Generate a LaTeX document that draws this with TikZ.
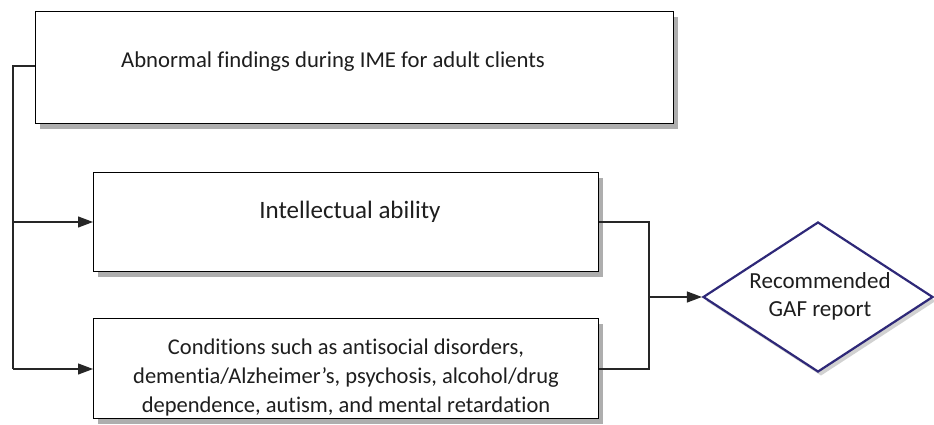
\documentclass[tikz,border=0pt]{standalone}
\usepackage{fontspec}
\setmainfont[Ligatures=NoCommon]{Carlito}
\usetikzlibrary{shapes.geometric,shadows,arrows.meta}
\definecolor{navy}{RGB}{46,40,120}
\definecolor{ink}{RGB}{30,30,30}
\tikzset{
  box/.style={draw=black, line width=1.3pt, fill=white, inner sep=0pt,
    drop shadow={shadow xshift=4pt, shadow yshift=-5pt, opacity=0.45, fill=black!70}},
  dec/.style={diamond, draw=navy, line width=2.2pt, fill=white, inner sep=0pt,
    minimum width=230pt, minimum height=150pt, aspect=1.53,
    drop shadow={shadow xshift=3pt, shadow yshift=-4pt, opacity=0.3, fill=black!60}},
  lbl/.style={text=ink, inner sep=0pt, align=center},
  conn/.style={draw=black!85, line width=1.2pt},
  arr/.style={conn, -{Triangle[length=15pt,width=11pt]}}
}
\begin{document}
\begin{tikzpicture}[x=1pt,y=-1pt]
\useasboundingbox (0,0) rectangle (934,425);
\node[box, minimum width=638pt, minimum height=112pt, anchor=north west] (b1) at (35,11) {};
\node[lbl, font=\fontsize{22.7}{27}\selectfont] (t1) at (333,62) {Abnormal findings during IME for adult clients};
\node[box, minimum width=505pt, minimum height=99pt, anchor=north west] (b2) at (93,172) {};
\node[lbl, font=\fontsize{25}{30}\selectfont] (t2) at (350,212) {Intellectual ability};
\node[box, minimum width=505pt, minimum height=100pt, anchor=north west] (b3) at (93,318) {};
\node[lbl, font=\fontsize{22.5}{29}\selectfont] (t3) at (346,377) {Conditions such as antisocial disorders,\\dementia/Alzheimer’s, psychosis, alcohol/drug\\dependence, autism, and mental retardation};
\node[dec] (d) at (818,297) {};
\node[lbl, font=\fontsize{23}{28}\selectfont] (td) at (820,296) {Recommended\\GAF report};
\coordinate (l1) at (13,66);
\coordinate (l2) at (13,222);
\coordinate (l3) at (13,369);
\coordinate (r2) at (649,222);
\coordinate (r3) at (649,369);
\coordinate (rm) at (649,297);
\draw[conn] (b1.west |- l1) -- (l1) -- (l3);
\draw[arr] (l2) -- (b2.west |- l2);
\draw[arr] (l3) -- (b3.west |- l3);
\draw[conn] (b2.east |- r2) -- (r2) -- (r3) -- (b3.east |- r3);
\draw[arr] (rm) -- (d.west);
\end{tikzpicture}
\end{document}
